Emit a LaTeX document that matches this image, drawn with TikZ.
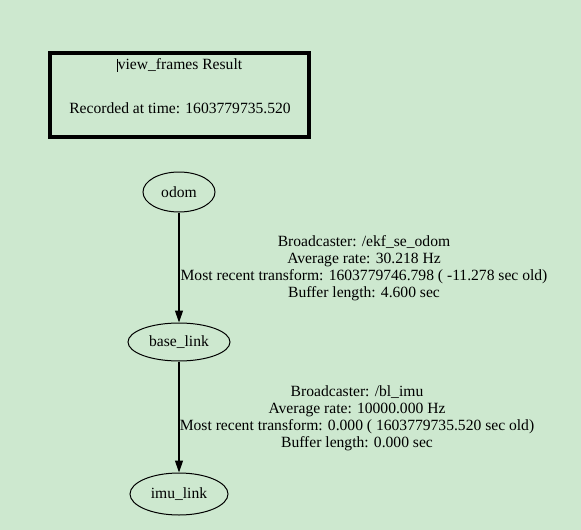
\documentclass[tikz,border=0pt]{standalone}
\usepackage{fontspec}
\setmainfont{Liberation Serif}
\usetikzlibrary{shapes.geometric,arrows.meta}
\definecolor{bggreen}{RGB}{205,232,207}

\begin{document}
\begin{tikzpicture}[x=1pt,y=-1pt,font=\fontsize{15.6}{17}\selectfont]
            \tikzset{every node/.append style={inner sep=0pt}}
            \tikzset{frame/.style={draw,ellipse,line width=1pt,minimum height=40pt}}
            \tikzset{info/.style={align=center}}
            \tikzset{tf/.style={line width=1.2pt,-{Triangle[length=12pt,width=8pt]}}}
            \fill [bggreen] (0,0) rectangle (581,530);
            \useasboundingbox (0,0) rectangle (581,530);
            \draw [black,line width=4pt] (50,53) rectangle (309,137);
            \node [info] (title) at (180,65.5) {view\_frames Result};
            \draw [black,line width=0.6pt] ([xshift=-0.5pt]title.north west) -- ([xshift=-0.5pt]title.south west);
            \node [info] (rec) at (180,108.5) {Recorded at time: 1603779735.520};
            \node [frame,minimum width=72pt] (odom) at (179,192) {odom};
            \node [frame,minimum width=102pt,minimum height=38pt] (base) at (179,342) {base\_link};
            \node [frame,minimum width=98pt,minimum height=42pt] (imu) at (179,494) {imu\_link};
            \draw [tf] (odom) -- (base);
            \draw [tf] (base) -- (imu);
            \node [info] (bc1) at (364,268) {Broadcaster: /ekf\_se\_odom\\Average rate: 30.218 Hz\\Most recent transform: 1603779746.798 ( -11.278 sec old)\\Buffer length: 4.600 sec};
            \node [info] (bc2) at (357,418.5) {Broadcaster: /bl\_imu\\Average rate: 10000.000 Hz\\Most recent transform: 0.000 ( 1603779735.520 sec old)\\Buffer length: 0.000 sec};
          \end{tikzpicture}
\end{document}
